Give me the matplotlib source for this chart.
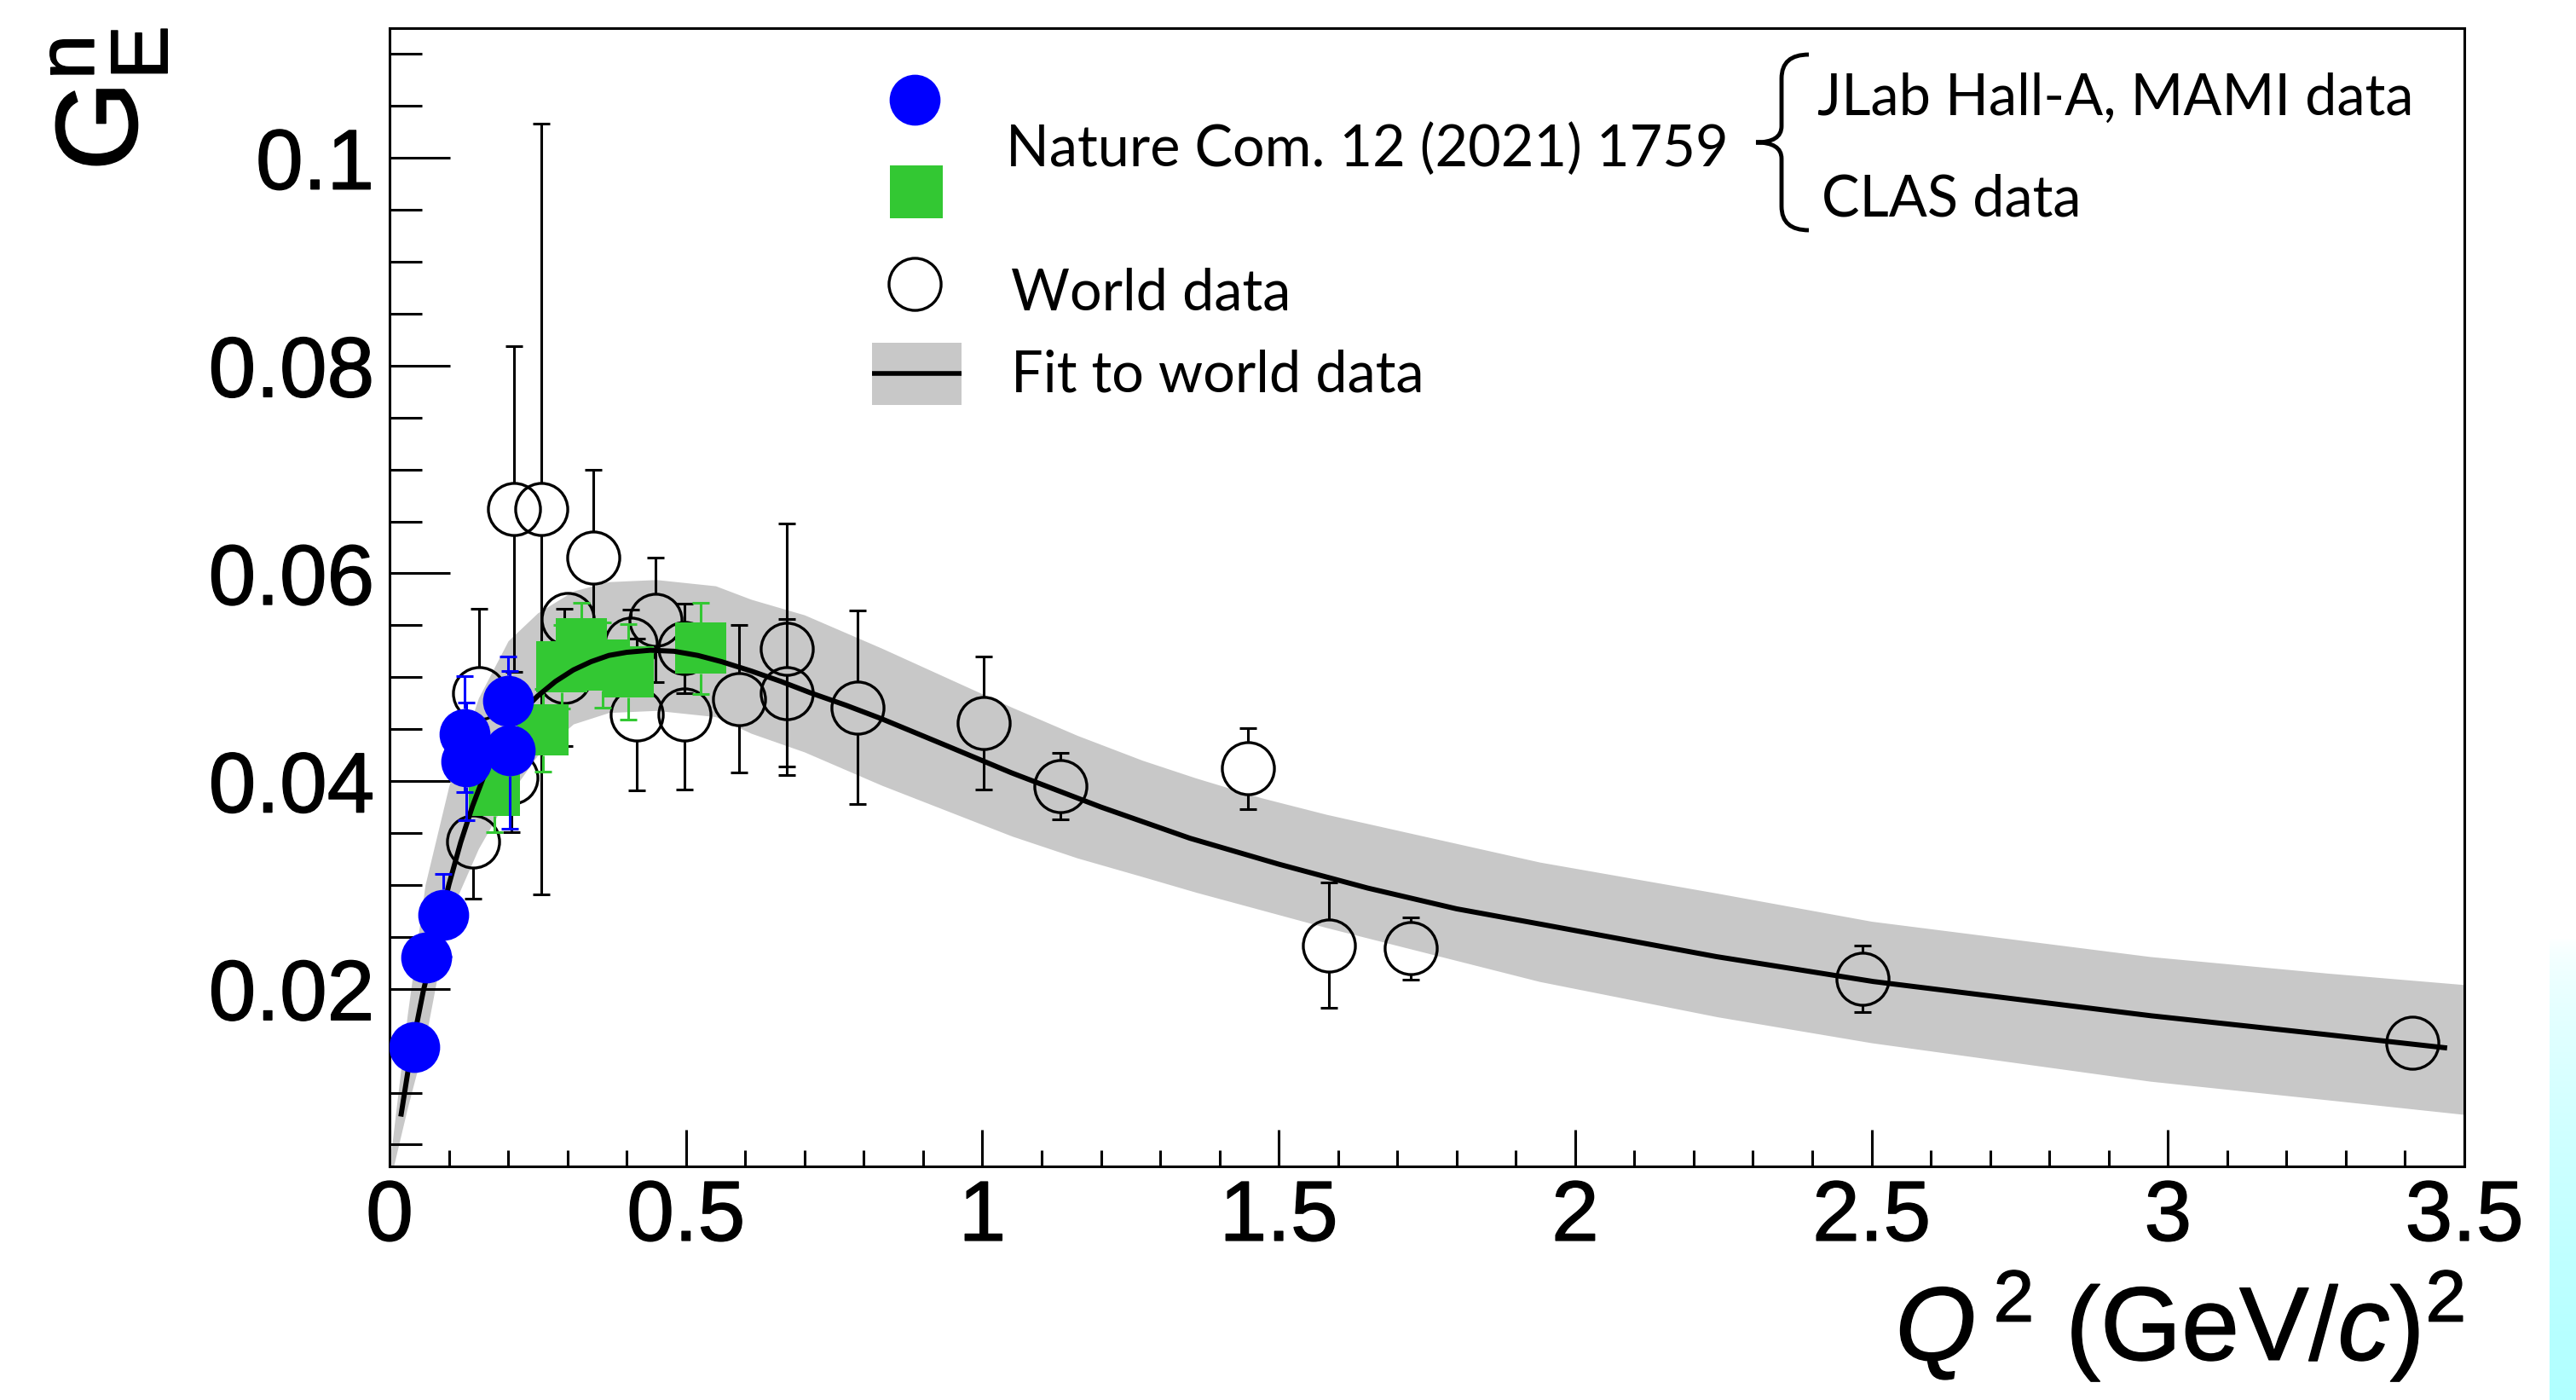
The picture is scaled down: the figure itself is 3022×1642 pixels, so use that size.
import numpy as np
import matplotlib
matplotlib.use("Agg")
from matplotlib import pyplot as plt
from matplotlib.path import Path
from matplotlib.patches import PathPatch, Rectangle
from matplotlib.colors import LinearSegmentedColormap
from matplotlib.ticker import MultipleLocator, FuncFormatter
import matplotlib.patheffects as pe

W, H = 3022, 1642

# fit to world data
fit_q2 = [0.019, 0.035, 0.057, 0.080, 0.100, 0.120, 0.140, 0.160, 0.190, 0.220,
          0.250, 0.280, 0.310, 0.340, 0.370, 0.400, 0.440, 0.480, 0.520, 0.560,
          0.610, 0.660, 0.710, 0.770, 0.830, 0.940, 1.049, 1.200, 1.350, 1.500,
          1.650, 1.800, 1.944, 2.238, 2.503, 2.972, 3.266, 3.471]
fit_ge = [0.0077, 0.0135, 0.0198, 0.0252, 0.0300, 0.0341, 0.0376, 0.0406, 0.0440, 0.0465,
          0.0482, 0.0496, 0.0507, 0.0515, 0.0521, 0.0524, 0.0526, 0.0525, 0.0521, 0.0515,
          0.0506, 0.0496, 0.0485, 0.0473, 0.0460, 0.0434, 0.0408, 0.0375, 0.0345, 0.0320,
          0.0297, 0.0277, 0.0262, 0.0231, 0.0207, 0.0174, 0.0156, 0.0143]

# grey uncertainty band of the fit
band_q2 = [0.003, 0.030, 0.060, 0.100, 0.150, 0.200, 0.250, 0.310, 0.370, 0.450,
           0.550, 0.610, 0.700, 0.830, 1.050, 1.160, 1.270, 1.360, 1.470, 1.580,
           1.940, 2.240, 2.500, 2.970, 3.270, 3.500]
band_hi = [0.0045, 0.0175, 0.0300, 0.0395, 0.0480, 0.0535, 0.0562, 0.0583, 0.0592, 0.0594,
           0.0588, 0.0575, 0.0560, 0.0528, 0.0471, 0.0444, 0.0420, 0.0403, 0.0384, 0.0368,
           0.0322, 0.0292, 0.0265, 0.0231, 0.0215, 0.0204]
band_lo = [0.0020, 0.0085, 0.0150, 0.0270, 0.0335, 0.0385, 0.0425, 0.0455, 0.0466, 0.0468,
           0.0462, 0.0446, 0.0428, 0.0396, 0.0347, 0.0326, 0.0308, 0.0293, 0.0276, 0.0259,
           0.0207, 0.0173, 0.0148, 0.0111, 0.0093, 0.0079]

# Nature Com. 12 (2021) 1759 - JLab Hall-A, MAMI data
hall_q2 = [0.041, 0.062, 0.091, 0.127, 0.130, 0.200, 0.203]
hall_ge = [0.0144, 0.0230, 0.0271, 0.0445, 0.0419, 0.0477, 0.0430]
hall_err = [0.0015, 0.0017, 0.0040, 0.0056, 0.0057, 0.0043, 0.0076]

# Nature Com. 12 (2021) 1759 - CLAS data
clas_q2 = [0.177, 0.259, 0.290, 0.323, 0.360, 0.403, 0.525]
clas_ge = [0.0391, 0.0449, 0.0510, 0.0532, 0.0512, 0.0505, 0.0528]
clas_err = [0.0040, 0.0040, 0.0040, 0.0040, 0.0041, 0.0046, 0.0044]

# world data
world_q2 = [0.141, 0.151, 0.206, 0.2105, 0.256, 0.295, 0.300, 0.343, 0.407, 0.417,
            0.448, 0.497, 0.497, 0.590, 0.670, 0.670, 0.790, 1.002, 1.132, 1.448,
            1.585, 1.722, 2.485, 3.413]
world_ge = [0.0342, 0.0485, 0.0403, 0.0662, 0.0662, 0.0500, 0.0556, 0.0615, 0.0532, 0.0464,
            0.0555, 0.0464, 0.0528, 0.0479, 0.0527, 0.0485, 0.0471, 0.0456, 0.0395, 0.0412,
            0.0242, 0.0239, 0.0210, 0.0148]
world_err = [0.0055, 0.0081, 0.0052, 0.0157, 0.0371, 0.0066, 0.0014, 0.0085, 0.0033, 0.0073,
             0.0060, 0.0072, 0.0043, 0.0071, 0.0121, 0.0071, 0.0093, 0.0064, 0.0032, 0.0039,
             0.0060, 0.0030, 0.0032, 0.0010]

xticks = [0, 0.5, 1, 1.5, 2, 2.5, 3, 3.5]
yticks = [0.02, 0.04, 0.06, 0.08, 0.1]

plt.rcParams['font.family'] = 'Liberation Sans'
plt.rcParams['mathtext.fontset'] = 'custom'
plt.rcParams['mathtext.rm'] = 'Liberation Sans'
plt.rcParams['mathtext.it'] = 'Liberation Sans:italic'
plt.rcParams['mathtext.default'] = 'regular'

BLUE = '#0000ff'
GREEN = '#33c833'
GREY = '#c8c8c8'
heavy = [pe.withStroke(linewidth=1.0, foreground='black')]

fig = plt.figure(figsize=(W / 100, H / 100), dpi=100, facecolor='white')
ax = fig.add_axes([457 / W, 1 - 1368 / H, (2891 - 457) / W, (1368 - 33) / H])
ax.set_xlim(0, 3.5)
ax.set_ylim(0.0029, 0.1125)

# band and fit
ax.fill_between(band_q2, band_lo, band_hi, color=GREY, lw=0, zorder=1)
ax.plot(fit_q2, fit_ge, color='black', lw=4.3, zorder=5, solid_capstyle='butt',
        solid_joinstyle='round')

# error bars stop at the marker edge, like ROOT does
dy_px = (ax.get_ylim()[1] - ax.get_ylim()[0]) / ax.bbox.height
rad = 30 * dy_px


def draw_errors(xs, ys, es, color, z):
    xs, ys, es = np.array(xs), np.array(ys), np.array(es)
    m = es > rad
    ax.vlines(xs[m], ys[m] + rad, ys[m] + es[m], color=color, lw=2.2, zorder=z)
    ax.vlines(xs[m], ys[m] - es[m], ys[m] - rad, color=color, lw=2.2, zorder=z)
    ax.plot(xs[m], ys[m] + es[m], ls='none', marker='_', ms=14, mew=2.2, color=color, zorder=z)
    ax.plot(xs[m], ys[m] - es[m], ls='none', marker='_', ms=14, mew=2.2, color=color, zorder=z)


draw_errors(world_q2, world_ge, world_err, 'black', 3)
ax.plot(world_q2, world_ge, ls='none', marker='o', ms=44, mfc='none', mec='black', mew=2.4, zorder=3)

draw_errors(clas_q2, clas_ge, clas_err, GREEN, 4)
ax.plot(clas_q2, clas_ge, ls='none', marker='s', ms=43, mfc=GREEN, mec=GREEN, mew=0, zorder=4)

draw_errors(hall_q2, hall_ge, hall_err, BLUE, 6)
ax.plot(hall_q2, hall_ge, ls='none', marker='o', ms=43, mfc=BLUE, mec=BLUE, mew=0, zorder=6)

# axes style (ROOT like)
ax.set_xticks(xticks)
ax.set_yticks(yticks)
ax.xaxis.set_minor_locator(MultipleLocator(0.1))
ax.yaxis.set_minor_locator(MultipleLocator(0.005))
fmt = FuncFormatter(lambda v, p: '%g' % v)
ax.xaxis.set_major_formatter(fmt)
ax.yaxis.set_major_formatter(fmt)
ax.tick_params(axis='both', which='both', direction='in', width=2.2, colors='black', labelsize=72)
ax.tick_params(axis='x', which='major', length=31, pad=10)
ax.tick_params(axis='x', which='minor', length=14)
ax.tick_params(axis='y', which='major', length=51, pad=13)
ax.tick_params(axis='y', which='minor', length=27)
for lab in ax.get_xticklabels() + ax.get_yticklabels():
    lab.set_path_effects(heavy)
for s in ax.spines.values():
    s.set_linewidth(2.2)

# overlay in figure pixels for titles, legend and the slide edge
ov = fig.add_axes([0, 0, 1, 1])
ov.set_xlim(0, W)
ov.set_ylim(H, 0)
ov.axis('off')

ov.text(2891, 1595, r'$\mathit{Q}^{\,2}\ (GeV/\mathit{c})^{2}$', fontsize=88,
        ha='right', va='baseline', path_effects=heavy)
ov.text(128, 32, r'$G_{E}^{n}$', fontsize=98, rotation=90, ha='center', va='top',
        path_effects=heavy)

# legend
ov.plot([1073], [117], ls='none', marker='o', ms=43, mfc=BLUE, mec=BLUE, mew=0)
ov.plot([1075], [225], ls='none', marker='s', ms=44, mfc=GREEN, mec=GREEN, mew=0)
ov.plot([1073], [333], ls='none', marker='o', ms=44, mfc='none', mec='black', mew=2.4)
ov.add_patch(Rectangle((1023, 402), 105, 73, color=GREY, lw=0))
ov.plot([1023, 1128], [438, 438], color='black', lw=4, solid_capstyle='butt')

lfont = dict(family='Lato', fontsize=48, va='baseline', ha='left', color='black')
ov.text(1180, 195, 'Nature Com. 12 (2021) 1759', **lfont)
ov.text(2132, 135, 'JLab Hall-A, MAMI data', **lfont)
ov.text(2137, 253, 'CLAS data', **lfont)
ov.text(1186, 363, 'World data', **lfont)
ov.text(1186, 460, 'Fit to world data', **lfont)

brace = Path([(2122, 64), (2090, 64), (2090, 92), (2090, 148), (2090, 167), (2060, 167),
              (2090, 167), (2090, 186), (2090, 242), (2090, 270), (2122, 270)],
             [Path.MOVETO, Path.CURVE3, Path.CURVE3, Path.LINETO, Path.CURVE3, Path.CURVE3,
              Path.CURVE3, Path.CURVE3, Path.LINETO, Path.CURVE3, Path.CURVE3])
ov.add_patch(PathPatch(brace, fc='none', ec='black', lw=3.5))

# cyan edge of the slide
cyan = LinearSegmentedColormap.from_list('edge', ['#ffffff', '#b0ffff'])
grad = np.linspace(0, 1, 256).reshape(-1, 1) ** 0.6
ov.imshow(grad, cmap=cyan, extent=[2991, 3022, 1642, 1100], aspect='auto', zorder=0)
ov.set_xlim(0, W)
ov.set_ylim(H, 0)

fig.savefig('out.png', dpi=100, facecolor='white')
